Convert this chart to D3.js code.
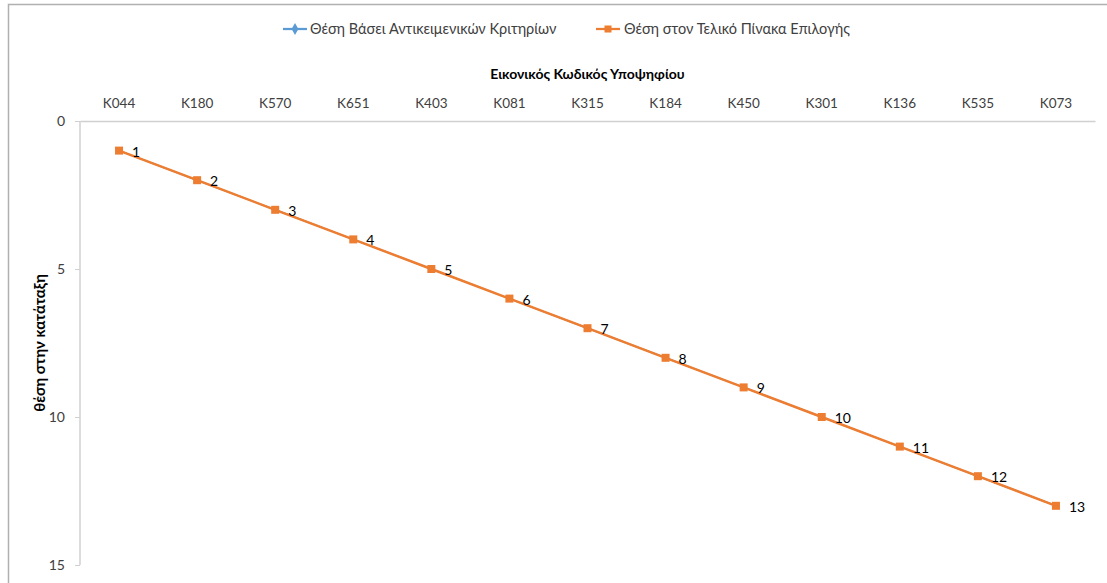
<!DOCTYPE html>
<html><head><meta charset="utf-8">
<script src="https://cdn.jsdelivr.net/npm/d3@7"></script>
<style>body{margin:0;background:#fff}svg{display:block}text{font-family:Lato,"Open Sans",sans-serif}</style>
</head><body><svg id="c" width="1107" height="583"></svg>
<script>
const categories=["K044","K180","K570","K651","K403","K081","K315","K184","K450","K301","K136","K535","K073"];
const objectiveRank=[1,2,3,4,5,6,7,8,9,10,11,12,13];
const finalRank=[1,2,3,4,5,6,7,8,9,10,11,12,13];
const yTicks=[0,5,10,15];
const seriesNames=["Θέση Βάσει Αντικειμενικών Κριτηρίων","Θέση στον Τελικό Πίνακα Επιλογής"];
const colors=["#5b9bd5","#ed7d31"];

const svg=d3.select("#c");
svg.append("path").attr("d","M8.5,583 V4.5 H1107").attr("fill","none").attr("stroke","#b0b0b0").attr("stroke-width",1.5);

const L=80,R=1095,T=121,B=565;
const x=d3.scaleBand().domain(categories).range([L,R]);
const y=d3.scaleLinear().domain([0,15]).range([T,B]);

const xa=svg.append("g").attr("transform",`translate(0,${T})`).call(d3.axisTop(x).tickSize(0).tickPadding(13));
xa.select(".domain").attr("stroke","#d0d0d0").attr("stroke-width",1.5);
xa.selectAll("text").attr("font-size",13.5).attr("fill","#404040");

const ya=svg.append("g").attr("transform",`translate(${L},0)`).call(d3.axisLeft(y).tickValues(yTicks).tickSize(5).tickPadding(10));
ya.select(".domain").attr("stroke","#d0d0d0").attr("stroke-width",1.5).attr("d",`M0,${T}V${B}`);
ya.selectAll(".tick line").attr("stroke","#d0d0d0");
ya.selectAll("text").attr("font-size",14).attr("fill","#404040");

svg.append("text").attr("x",(L+R)/2).attr("y",79).attr("text-anchor","middle").attr("font-size",14).attr("font-weight","bold").attr("fill","#000").text("Εικονικός Κωδικός Υποψηφίου");
svg.append("text").attr("transform",`translate(45,${(T+B)/2}) rotate(-90)`).attr("text-anchor","middle").attr("font-size",15).attr("font-weight","bold").attr("fill","#000").text("θέση στην κατάταξη");

const cx=c=>x(c)+x.bandwidth()/2;
const line=d3.line().x((d,i)=>cx(categories[i])).y(d=>y(d));
svg.append("path").datum(objectiveRank).attr("d",line).attr("fill","none").attr("stroke",colors[0]).attr("stroke-width",1.5);
svg.selectAll(".m1").data(objectiveRank).join("path").attr("transform",(d,i)=>`translate(${cx(categories[i])},${y(d)})`).attr("d",d3.symbol(d3.symbolDiamond,12)).attr("fill",colors[0]);
svg.append("path").datum(finalRank).attr("d",line).attr("fill","none").attr("stroke",colors[1]).attr("stroke-width",2.5);
svg.selectAll(".m2").data(finalRank).join("rect").attr("x",(d,i)=>cx(categories[i])-4).attr("y",d=>y(d)-4).attr("width",8).attr("height",8).attr("fill",colors[1]);
svg.selectAll(".lb").data(finalRank).join("text").attr("x",(d,i)=>cx(categories[i])+13).attr("y",d=>y(d)+6).attr("font-size",14).attr("fill","#000").text(d=>d);

const lg=[{x:283,tx:310},{x:596,tx:624}];
lg.forEach((g,i)=>{
  svg.append("line").attr("x1",g.x).attr("x2",g.x+24).attr("y1",29).attr("y2",29).attr("stroke",colors[i]).attr("stroke-width",2.25);
  if(i==0) svg.append("path").attr("transform",`translate(${g.x+12},29)`).attr("d",d3.symbol(d3.symbolDiamond,40)).attr("fill",colors[0]);
  else svg.append("rect").attr("x",g.x+8.5).attr("y",25.5).attr("width",7).attr("height",7).attr("fill",colors[1]);
  svg.append("text").attr("x",g.tx).attr("y",34).attr("font-size",14.5).attr("fill","#404040").text(seriesNames[i]);
});
</script></body></html>
